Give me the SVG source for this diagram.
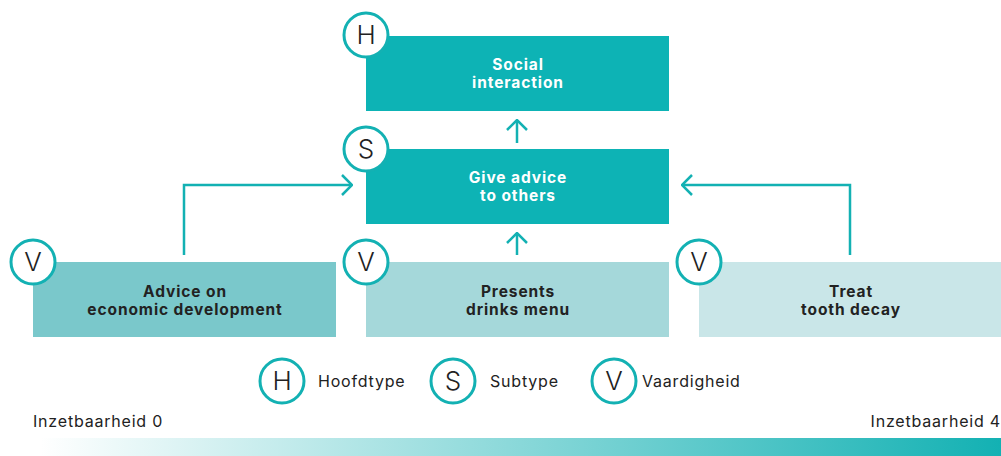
<svg xmlns="http://www.w3.org/2000/svg" width="1001" height="456" viewBox="0 0 1001 456">
<defs>
<linearGradient id="grad" x1="0" y1="0" x2="1" y2="0">
<stop offset="0" stop-color="#13b1b3" stop-opacity="0"/>
<stop offset="1" stop-color="#13b1b3" stop-opacity="1"/>
</linearGradient>
<marker id="arr" viewBox="0 0 12 22" refX="11" refY="11" markerWidth="12" markerHeight="22" markerUnits="userSpaceOnUse" orient="auto">
<path d="M1,1 L11,11 L1,21" fill="none" stroke="#13b1b3" stroke-width="2.5"/>
</marker>
<style>
.conn{fill:none;stroke:#13b1b3;stroke-width:2.5;marker-end:url(#arr)}
.badge{fill:#fff;stroke:#13b1b3;stroke-width:3}
.bl{font-family:Inter,"Liberation Sans",sans-serif;font-size:26px;font-weight:300;fill:#222;text-anchor:middle}
.tw{font-family:Inter,"Liberation Sans",sans-serif;font-size:15.5px;font-weight:bold;letter-spacing:0.9px;fill:#fff;text-anchor:middle}
.td{font-family:Inter,"Liberation Sans",sans-serif;font-size:15.5px;font-weight:bold;letter-spacing:0.9px;fill:#222;text-anchor:middle}
.lg{font-family:Inter,"Liberation Sans",sans-serif;font-size:16px;letter-spacing:0.8px;fill:#222}
</style>
</defs>
<rect width="1001" height="456" fill="#fff"/>
<g id="connectors">
<path class="conn" d="M517,143 V120"/>
<path class="conn" d="M517,255 V233"/>
<path class="conn" d="M184,255 V185 H352"/>
<path class="conn" d="M850,255 V185 H682"/>
</g>
<g id="social-interaction">
<rect x="366" y="36" width="303" height="75" fill="#0db3b5"/>
<text class="tw" x="518" y="70">Social</text>
<text class="tw" x="518" y="88">interaction</text>
<circle class="badge" cx="366" cy="35" r="22"/>
<text class="bl" x="366" y="44">H</text>
</g>
<g id="give-advice">
<rect x="366" y="149" width="303" height="75" fill="#0db3b5"/>
<text class="tw" x="518" y="183">Give advice</text>
<text class="tw" x="518" y="201">to others</text>
<circle class="badge" cx="366" cy="149" r="22"/>
<text class="bl" x="366" y="158">S</text>
</g>
<g id="advice-economic">
<rect x="33" y="262" width="303" height="75" fill="#7ac8cb"/>
<text class="td" x="185" y="297">Advice on</text>
<text class="td" x="185" y="315">economic development</text>
<circle class="badge" cx="33" cy="262" r="22"/>
<text class="bl" x="33" y="271">V</text>
</g>
<g id="drinks-menu">
<rect x="366" y="262" width="303" height="75" fill="#a5d8da"/>
<text class="td" x="518" y="297">Presents</text>
<text class="td" x="518" y="315">drinks menu</text>
<circle class="badge" cx="366" cy="262" r="22"/>
<text class="bl" x="366" y="271">V</text>
</g>
<g id="tooth-decay">
<rect x="699" y="262" width="302" height="75" fill="#c9e6e8"/>
<text class="td" x="851" y="297">Treat</text>
<text class="td" x="851" y="315">tooth decay</text>
<circle class="badge" cx="699" cy="262" r="22"/>
<text class="bl" x="699" y="271">V</text>
</g>
<g id="legend">
<circle class="badge" cx="282" cy="381" r="22"/>
<text class="bl" x="282" y="390">H</text>
<text class="lg" x="318" y="387">Hoofdtype</text>
<circle class="badge" cx="453" cy="381" r="22"/>
<text class="bl" x="453" y="390">S</text>
<text class="lg" x="490" y="387">Subtype</text>
<circle class="badge" cx="614" cy="381" r="22"/>
<text class="bl" x="614" y="390">V</text>
<text class="lg" x="642" y="387">Vaardigheid</text>
</g>
<g id="scale">
<text class="lg" x="33" y="427">Inzetbaarheid 0</text>
<text class="lg" x="1001" y="427" text-anchor="end">Inzetbaarheid 4</text>
<rect x="40" y="438" width="961" height="18" fill="url(#grad)"/>
</g>
</svg>
